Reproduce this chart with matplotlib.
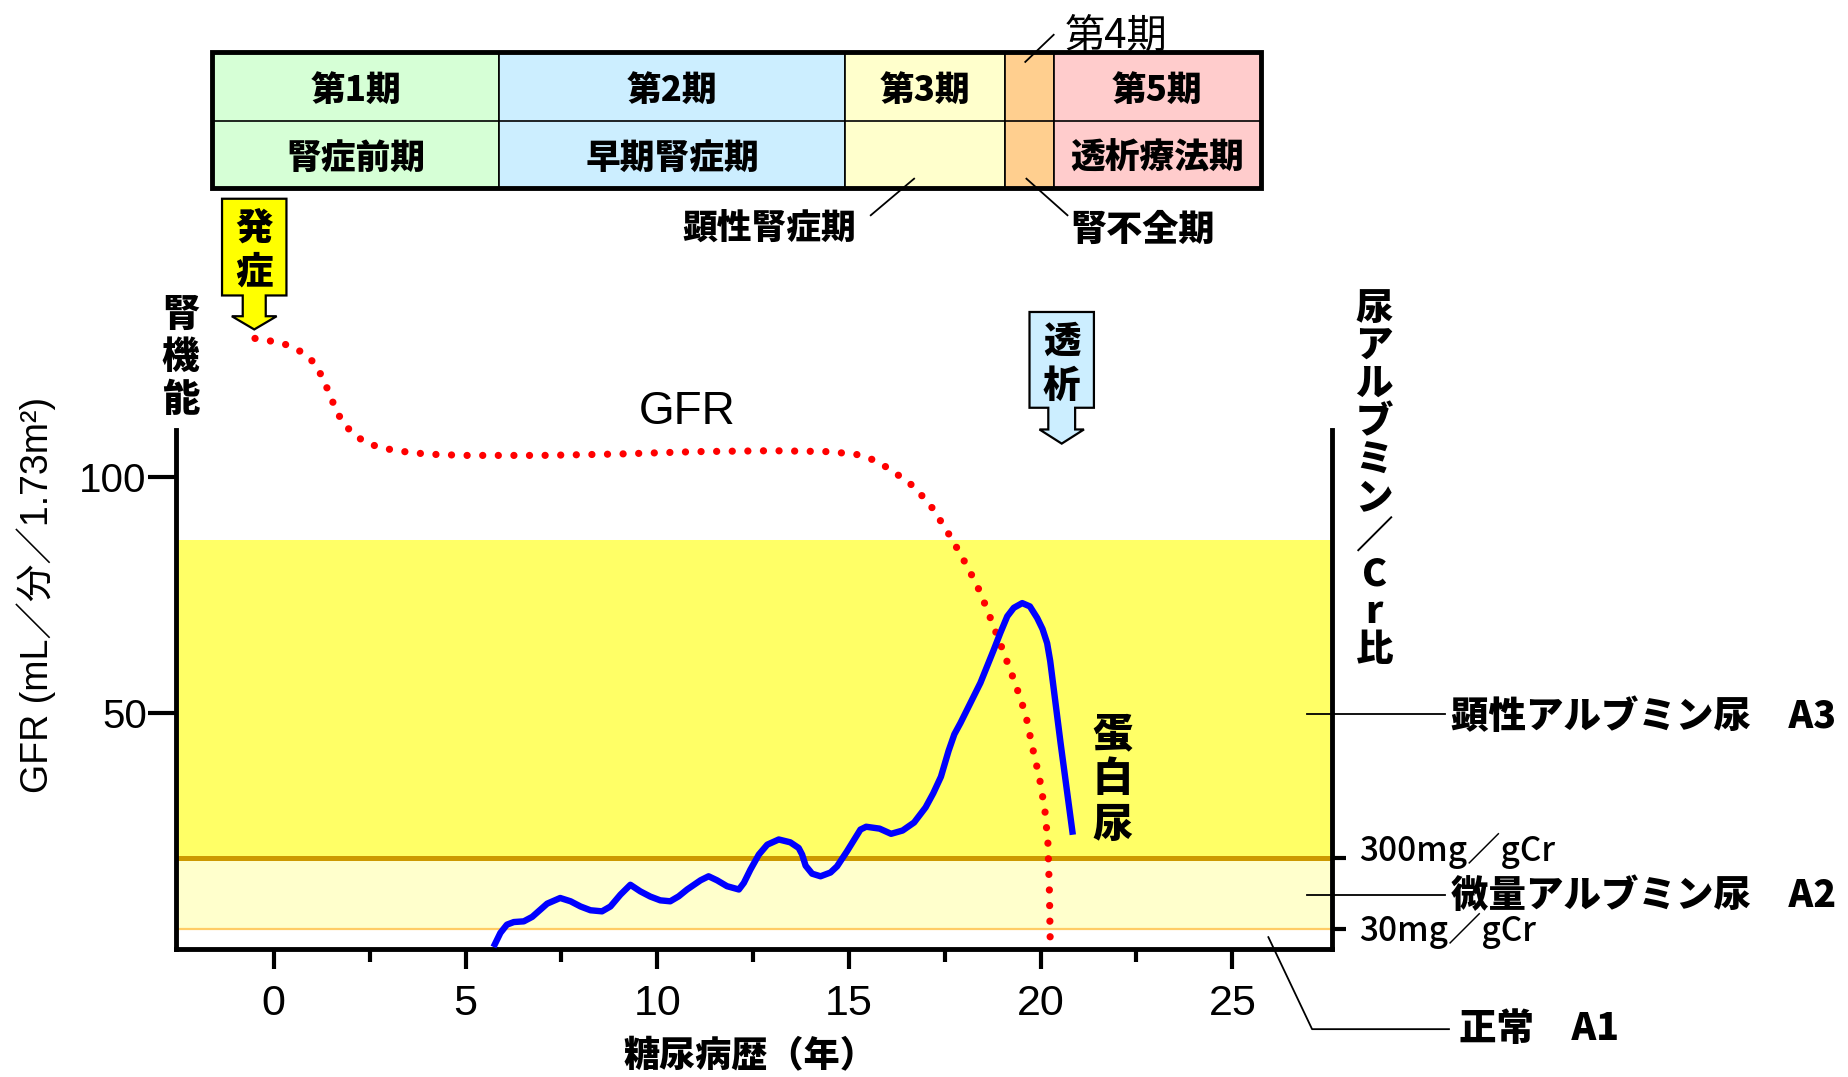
import matplotlib
matplotlib.use('Agg')
import matplotlib.pyplot as plt
from matplotlib.patches import Rectangle, Polygon

CJK = 'Noto Sans CJK JP'
plt.rcParams['font.family'] = ['Liberation Sans', CJK]

# ---- data ----
# GFR (red dotted), years vs mL/min/1.73m2
gfr_x = [-0.49, -0.05, 0.36, 0.73, 1.06, 1.26, 1.43, 1.59, 1.78, 2.06, 2.40, 2.81,
         3.22, 3.65, 4.06, 5.0, 7.0, 9.0, 11.0, 13.0, 14.5, 15.2, 15.7, 16.1,
         16.6, 16.9, 17.17, 17.4, 17.63, 17.84, 18.05, 18.24, 18.43, 18.74,
         19.04, 19.35, 19.61, 19.78, 19.97, 20.11, 20.19, 20.23, 20.25]
gfr_y = [129.4, 128.8, 128.0, 126.5, 124.2, 121.25, 118.1, 114.9, 111.8, 109.25,
         107.3, 106.2, 105.6, 105.15, 104.85, 104.6, 104.6, 104.9, 105.4, 105.6,
         105.4, 104.8, 103.5, 101.5, 98.6, 96.1, 93.5, 90.6, 87.6, 84.65, 81.6,
         78.65, 75.5, 69.1, 62.75, 56.0, 49.7, 42.95, 36.25, 29.5, 22.45, 12.0, 1.5]

# proteinuria (blue), same axes units
prot_x = [5.73, 5.91, 6.08, 6.26, 6.52, 6.74, 7.13, 7.47, 7.74, 8.0, 8.26, 8.56,
          8.78, 9.04, 9.30, 9.56, 9.82, 10.08, 10.34, 10.56, 10.78, 11.13, 11.34,
          11.56, 11.82, 12.13, 12.26, 12.43, 12.65, 12.87, 13.17, 13.47, 13.69,
          13.78, 13.87, 14.04, 14.26, 14.52, 14.69, 14.95, 15.3, 15.45, 15.8,
          16.1, 16.4, 16.7, 17.0, 17.2, 17.4, 17.6, 17.75, 17.91, 18.43, 18.78,
          18.95, 19.13, 19.3, 19.52, 19.72, 19.91, 20.05, 20.17, 20.25, 20.3,
          20.52, 20.84]
prot_y = [0.4, 3.4, 5.15, 5.7, 5.85, 6.8, 9.6, 10.8, 10.1, 9.0, 8.2, 7.97, 9.0,
          11.5, 13.6, 12.2, 11.1, 10.3, 10.1, 11.15, 12.6, 14.55, 15.4, 14.55,
          13.3, 12.6, 14.0, 16.8, 20.0, 22.1, 23.2, 22.6, 21.4, 20.0, 17.65,
          15.95, 15.4, 16.2, 17.5, 20.7, 25.3, 25.9, 25.5, 24.4, 25.1, 26.8,
          30.0, 33.0, 36.5, 42.0, 45.5, 47.9, 56.4, 63.45, 67.0, 70.5, 72.3,
          73.3, 72.6, 70.15, 67.8, 64.8, 61.0, 57.8, 43.65, 24.2]

# albuminuria thresholds on the GFR scale: 30 mg/gCr, 300 mg/gCr, top of A3 band
alb_levels = [4.25, 19.25, 86.75]
alb_ticklabels = ['30mg／gCr', '300mg／gCr']
alb_cats = ['正常　A1', '微量アルブミン尿　A2', '顕性アルブミン尿　A3']
alb_cat_y = [-16.25, 12.0, 50.0]

# CKD stages (year boundaries)
stage_edges = [-1.6, 5.88, 14.89, 19.08, 20.34, 25.75]
stage_names = ['第1期', '第2期', '第3期', '', '第5期']
stage_sub = ['腎症前期', '早期腎症期', '', '', '透析療法期']
stage_colors = ['#D6FFD6', '#CCEEFF', '#FFFFCC', '#FFCF8F', '#FFCCCC']

xticks = [0, 5, 10, 15, 20, 25]
xminor = [2.5, 7.5, 12.5, 17.5, 22.5]
yticks = [50, 100]

DY = -0.8   # small baseline correction for CJK text
BOLD = 'black'

# ---- figure ----
fig = plt.figure(figsize=(18.49, 10.77), dpi=100)
ax = fig.add_axes([0.0952, 0.1189, 0.6252, 0.4819])
ax.set_xlim(-2.55, 27.6)
ax.set_ylim(0, 110)

# albuminuria bands
ax.axhspan(alb_levels[1], alb_levels[2], color='#FFFF66', lw=0, zorder=0)
ax.axhspan(alb_levels[0], alb_levels[1], color='#FFFFCC', lw=0, zorder=0)
ax.axhline(alb_levels[1], color='#CC9900', lw=3.6, zorder=1)
ax.axhline(alb_levels[0], color='#FFCC66', lw=1.6, zorder=1)

# curves
ax.plot(gfr_x, gfr_y, color='#FF0000', lw=5.2, linestyle=(0, (0.01, 2.15)),
        dash_capstyle='round', clip_on=False, zorder=3)
ax.plot(prot_x, prot_y, color='#0000FF', lw=4.6, solid_joinstyle='round',
        solid_capstyle='butt', zorder=4)

# spines / ticks
for s in ['left', 'bottom', 'right']:
    ax.spines[s].set_linewidth(3.5)
ax.spines['top'].set_visible(False)
ax.set_xticks(xticks)
ax.set_xticks(xminor, minor=True)
ax.set_yticks(yticks)
ax.set_xticklabels([str(v) for v in xticks], fontsize=31)
ax.set_yticklabels([str(v) for v in yticks], fontsize=29)
ax.tick_params(axis='x', which='major', length=14.5, width=3, pad=11)
ax.tick_params(axis='x', which='minor', length=9, width=3)
ax.tick_params(axis='y', which='major', length=20, width=3, pad=1)

ax2 = ax.twinx()
ax2.set_ylim(ax.get_ylim())
ax2.set_yticks(alb_levels[:2])
ax2.set_yticklabels([])
ax2.tick_params(axis='y', length=10, width=3)
for s in ax2.spines.values():
    s.set_visible(False)

# axis labels
ax.text(-6.2, 75, 'GFR (mL／分／1.73m²)', rotation=90, ha='center', va='center', fontsize=27)
ax.text(12.43, -22 + DY, '糖尿病歴（年）', ha='center', va='center', fontsize=26,
        fontweight=BOLD, family=CJK)
ax.text(-2.43, 126.25 + DY, '\n'.join('腎機能'), ha='center', va='center', fontsize=27,
        fontweight=BOLD, family=CJK, linespacing=1.15)
ax.text(28.7, 99.5, '\n'.join('尿アルブミン／Cr比'), ha='center', va='center',
        fontsize=27, fontweight=BOLD, family=CJK, linespacing=1.0)

ax.text(10.77, 113.75, 'GFR', ha='center', va='center', fontsize=33)
ax.text(21.88, 36.75 + DY, '\n'.join('蛋白尿'), ha='center', va='center', fontsize=29,
        fontweight=BOLD, family=CJK, linespacing=1.1)

# right side threshold labels
ax.text(28.3, 20.75, alb_ticklabels[1], ha='left', va='center', fontsize=24,
        family=CJK, fontweight='medium')
ax.text(28.3, 3.75, alb_ticklabels[0], ha='left', va='center', fontsize=24,
        family=CJK, fontweight='medium')

# category labels and leaders
lead = dict(color='black', lw=1.3, clip_on=False, zorder=5)
ax.plot([26.95, 30.55], [alb_cat_y[2] - 0.25] * 2, **lead)
ax.plot([26.95, 30.55], [alb_cat_y[1] - 0.5] * 2, **lead)
ax.plot([25.94, 27.08, 30.65], [2.5, -17.0, -17.0], **lead)
ax.text(30.7, alb_cat_y[2] + DY, alb_cats[2], ha='left', va='center', fontsize=27,
        fontweight=BOLD, family=CJK)
ax.text(30.7, alb_cat_y[1] + DY, alb_cats[1], ha='left', va='center', fontsize=27,
        fontweight=BOLD, family=CJK)
ax.text(30.9, alb_cat_y[0] + DY, alb_cats[0], ha='left', va='center', fontsize=27,
        fontweight=BOLD, family=CJK)

# ---- stage table ----
y_top, y_mid, y_bot = 190.0, 175.5, 161.25
for i in range(len(stage_colors)):
    x0, x1 = stage_edges[i], stage_edges[i + 1]
    ax.add_patch(Rectangle((x0, y_bot), x1 - x0, y_top - y_bot, facecolor=stage_colors[i],
                           edgecolor='black', lw=1.2, clip_on=False, zorder=2))
    xc = (x0 + x1) / 2
    ax.text(xc, (y_top + y_mid) / 2 + DY, stage_names[i], ha='center', va='center',
            fontsize=25, fontweight=BOLD, family=CJK)
    ax.text(xc, (y_mid + y_bot) / 2 + DY, stage_sub[i], ha='center', va='center',
            fontsize=25, fontweight=BOLD, family=CJK)
ax.plot([stage_edges[0], stage_edges[-1]], [y_mid, y_mid], color='black', lw=1.2,
        clip_on=False, zorder=3)
ax.add_patch(Rectangle((stage_edges[0], y_bot), stage_edges[-1] - stage_edges[0],
                       y_top - y_bot, fill=False, edgecolor='black', lw=3.5,
                       clip_on=False, zorder=3))

ax.text(20.62, 194.25 + DY, '第4期', ha='left', va='center', fontsize=29, family=CJK)
ax.plot([19.6, 20.34], [188.0, 193.75], **lead)
ax.text(12.92, 153.25 + DY, '顕性腎症期', ha='center', va='center', fontsize=25,
        fontweight=BOLD, family=CJK)
ax.plot([15.57, 16.7], [155.5, 163.25], **lead)
ax.text(22.65, 153.25 + DY, '腎不全期', ha='center', va='center', fontsize=26,
        fontweight=BOLD, family=CJK)
ax.plot([19.63, 20.7], [163.25, 155.5], **lead)


# ---- callout arrows ----
def callout(xc, top, box_bot, head_y, tip, bw, sw, hw, color, label):
    pts = [(xc - bw, top), (xc + bw, top), (xc + bw, box_bot), (xc + sw, box_bot),
           (xc + sw, head_y), (xc + hw, head_y), (xc, tip), (xc - hw, head_y),
           (xc - sw, head_y), (xc - sw, box_bot), (xc - bw, box_bot)]
    ax.add_patch(Polygon(pts, closed=True, facecolor=color, edgecolor='black',
                         lw=1.6, clip_on=False, zorder=5))
    ax.text(xc, (top + box_bot) / 2 + DY, '\n'.join(label), ha='center', va='center',
            fontsize=27, fontweight=BOLD, family=CJK, linespacing=1.2, zorder=6)


callout(-0.51, 159.0, 138.5, 134.1, 131.3, 0.84, 0.30, 0.585, '#FFFF00', '発症')
callout(20.55, 135.0, 114.7, 110.1, 107.1, 0.84, 0.35, 0.58, '#CCEEFF', '透析')

fig.savefig('out.png', dpi=100, facecolor='white')
